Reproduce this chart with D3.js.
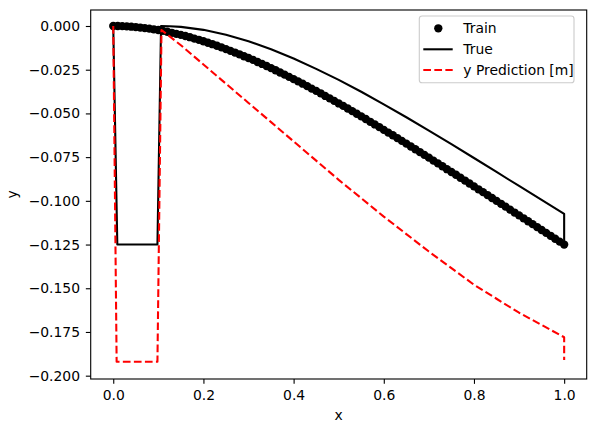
<!DOCTYPE html>
<html>
<head>
<meta charset="utf-8">
<script src="https://cdn.jsdelivr.net/npm/d3@7"></script>
<style>
body { margin: 0; background: #fff; }
text { font-family: "DejaVu Sans", sans-serif; fill: #000; }
</style>
</head>
<body>
<svg id="chart" width="596" height="432"></svg>
<script>
// training points (x, y)
var trainX = [0.00,0.01,0.02,0.03,0.04,0.05,0.06,0.07,0.08,0.09,
	0.10,0.11,0.12,0.13,0.14,0.15,0.16,0.17,0.18,0.19,
	0.20,0.21,0.22,0.23,0.24,0.25,0.26,0.27,0.28,0.29,
	0.30,0.31,0.32,0.33,0.34,0.35,0.36,0.37,0.38,0.39,
	0.40,0.41,0.42,0.43,0.44,0.45,0.46,0.47,0.48,0.49,
	0.50,0.51,0.52,0.53,0.54,0.55,0.56,0.57,0.58,0.59,
	0.60,0.61,0.62,0.63,0.64,0.65,0.66,0.67,0.68,0.69,
	0.70,0.71,0.72,0.73,0.74,0.75,0.76,0.77,0.78,0.79,
	0.80,0.81,0.82,0.83,0.84,0.85,0.86,0.87,0.88,0.89,
	0.90,0.91,0.92,0.93,0.94,0.95,0.96,0.97,0.98,0.99,1.00];
var trainY = [0,0,-0.0001,-0.0002,-0.0004,-0.0006,-0.0009,-0.0012,-0.0015,-0.0019,
	-0.0023,-0.0028,-0.0033,-0.0039,-0.0045,-0.0051,-0.0057,-0.0064,-0.0072,-0.0079,
	-0.0087,-0.0096,-0.0104,-0.0113,-0.0122,-0.0132,-0.0142,-0.0152,-0.0162,-0.0173,
	-0.0183,-0.0194,-0.0206,-0.0217,-0.0229,-0.0241,-0.0253,-0.0266,-0.0278,-0.0291,
	-0.0304,-0.0317,-0.0330,-0.0344,-0.0358,-0.0371,-0.0385,-0.0400,-0.0414,-0.0428,
	-0.0443,-0.0457,-0.0472,-0.0487,-0.0502,-0.0517,-0.0532,-0.0548,-0.0563,-0.0578,
	-0.0594,-0.0610,-0.0625,-0.0641,-0.0657,-0.0673,-0.0689,-0.0705,-0.0721,-0.0737,
	-0.0753,-0.0770,-0.0786,-0.0802,-0.0819,-0.0835,-0.0851,-0.0868,-0.0884,-0.0901,
	-0.0917,-0.0934,-0.0950,-0.0967,-0.0984,-0.1000,-0.1017,-0.1033,-0.1050,-0.1067,
	-0.1083,-0.1100,-0.1117,-0.1133,-0.1150,-0.1167,-0.1183,-0.1200,-0.1217,-0.1233,-0.1250];

// "True" curve
var trueX = [0, 0.009, 0.098, 0.106, 0.125, 0.15, 0.2, 0.25, 0.3, 0.35, 0.4, 0.45, 0.5,
	0.55, 0.6, 0.65, 0.7, 0.75, 0.8, 0.85, 0.9, 0.95, 1.0, 1.0];
var trueY = [0, -0.125, -0.125, 0, -0.0001, -0.0005, -0.0022, -0.0050, -0.0087, -0.0133, -0.0186, -0.0245, -0.0308,
	-0.0376, -0.0448, -0.0522, -0.0599, -0.0676, -0.0755, -0.0835, -0.0915, -0.0995, -0.1075, -0.125];

// prediction curve
var predX = [0, 0.0075, 0.098, 0.107, 0.15, 0.2, 0.25, 0.3, 0.35, 0.4, 0.45, 0.5,
	0.55, 0.6, 0.65, 0.7, 0.75, 0.8, 0.85, 0.9, 0.95, 1.0, 1.0];
var predY = [0, -0.192, -0.192, -0.0023, -0.011, -0.022, -0.033, -0.044, -0.055, -0.066, -0.077, -0.088,
	-0.0985, -0.109, -0.119, -0.129, -0.1385, -0.148, -0.156, -0.164, -0.171, -0.178, -0.191];

var xTicks = [0, 0.2, 0.4, 0.6, 0.8, 1.0];
var yTicks = [0, -0.025, -0.05, -0.075, -0.1, -0.125, -0.15, -0.175, -0.2];
var legendLabels = ["Train", "True", "y Prediction [m]"];

var plotL = 90.7, plotR = 586.7, plotT = 10, plotB = 379;
var svg = d3.select("#chart");

var x = d3.scaleLinear().domain([-0.05, 1.05]).range([plotL, plotR]);
var y = d3.scaleLinear().domain([-0.2019, 0.00915]).range([plotB, plotT]);

var zip = function(xs, ys) { return xs.map(function(v, i) { return [v, ys[i]]; }); };
var line = d3.line().x(function(d) { return x(d[0]); }).y(function(d) { return y(d[1]); });

// train markers
svg.append("g").selectAll("circle")
	.data(zip(trainX, trainY))
	.enter().append("circle")
	.attr("cx", function(d) { return x(d[0]); })
	.attr("cy", function(d) { return y(d[1]); })
	.attr("r", 4.17)
	.attr("fill", "#000");

svg.append("path")
	.attr("d", line(zip(trueX, trueY)))
	.attr("fill", "none").attr("stroke", "#000")
	.attr("stroke-width", 2.08).attr("stroke-linejoin", "round");

svg.append("path")
	.attr("d", line(zip(predX, predY)))
	.attr("fill", "none").attr("stroke", "#ff0000")
	.attr("stroke-width", 2.08).attr("stroke-linejoin", "round")
	.attr("stroke-dasharray", "7.7,3.33");

// axes
var fmtY = d3.format(".3f"), fmtX = d3.format(".1f");
var gx = svg.append("g").attr("transform", "translate(0," + plotB + ")")
	.call(d3.axisBottom(x).tickValues(xTicks).tickFormat(fmtX).tickSize(4.86).tickPadding(6.3).tickSizeOuter(0));
var gy = svg.append("g").attr("transform", "translate(" + plotL + ",0)")
	.call(d3.axisLeft(y).tickValues(yTicks).tickFormat(fmtY).tickSize(4.86).tickPadding(5.8).tickSizeOuter(0));
[gx, gy].forEach(function(g) {
	g.select(".domain").remove();
	g.selectAll("line").attr("stroke", "#000").attr("stroke-width", 1.11);
	g.selectAll("text").attr("font-size", "13.9px").attr("font-family", "DejaVu Sans").attr("fill", "#000");
});

// frame
svg.append("rect")
	.attr("x", plotL).attr("y", plotT)
	.attr("width", plotR - plotL).attr("height", plotB - plotT)
	.attr("fill", "none").attr("stroke", "#000").attr("stroke-width", 1.11);

svg.append("text").attr("x", (plotL + plotR) / 2).attr("y", 420)
	.attr("text-anchor", "middle").attr("font-size", "13.9px").text("x");
svg.append("text").attr("transform", "translate(17," + ((plotT + plotB) / 2) + ") rotate(-90)")
	.attr("text-anchor", "middle").attr("font-size", "13.9px").text("y");

// legend
var lg = svg.append("g");
lg.append("rect")
	.attr("x", 419.3).attr("y", 16).attr("width", 154.7).attr("height", 66.7)
	.attr("rx", 2.8).attr("fill", "#fff").attr("fill-opacity", 0.8)
	.attr("stroke", "#cccccc").attr("stroke-width", 1.11);
var rowY = [28.3, 49.3, 70];
lg.append("circle").attr("cx", 438.3).attr("cy", rowY[0]).attr("r", 4.17).attr("fill", "#000");
lg.append("line").attr("x1", 423.3).attr("x2", 452.7).attr("y1", rowY[1]).attr("y2", rowY[1])
	.attr("stroke", "#000").attr("stroke-width", 2.08);
lg.append("line").attr("x1", 423.3).attr("x2", 452.7).attr("y1", rowY[2]).attr("y2", rowY[2])
	.attr("stroke", "#ff0000").attr("stroke-width", 2.08).attr("stroke-dasharray", "7.7,3.33");
lg.selectAll("text.lbl").data(legendLabels).enter().append("text")
	.attr("class", "lbl")
	.attr("x", 463.3)
	.attr("y", function(d, i) { return rowY[i] + 5; })
	.attr("font-size", "13.9px")
	.text(function(d) { return d; });
</script>
</body>
</html>
